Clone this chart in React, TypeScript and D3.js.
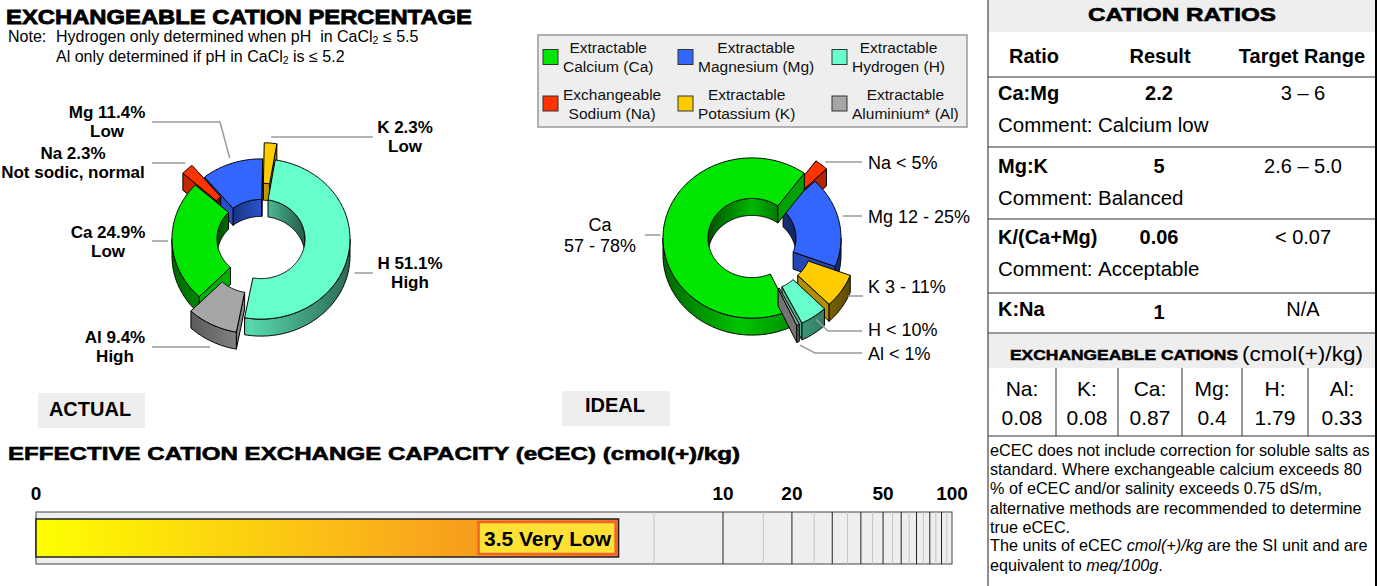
import * as React from 'react';
import * as d3 from 'd3';

// ---------- data ----------
const cationKeys = ['Ca', 'Na', 'Mg', 'K', 'H', 'Al'];
const cationColors = ['#00E600', '#FF3300', '#3366FF', '#FFCC00', '#66FFCC', '#A6A6A6'];
const legendText = [
  ['Extractable', 'Calcium (Ca)'],
  ['Exchangeable', 'Sodium (Na)'],
  ['Extractable', 'Magnesium (Mg)'],
  ['Extractable', 'Potassium (K)'],
  ['Extractable', 'Hydrogen (H)'],
  ['Extractable', 'Aluminium* (Al)'],
];

const actualPercent = [24.9, 2.3, 11.4, 2.3, 51.1, 9.4];
const actualText = [['Ca 24.9%', 'Low'], ['Na 2.3%', 'Not sodic, normal'], ['Mg 11.4%', 'Low'], ['K 2.3%', 'Low'], ['H 51.1%', 'High'], ['Al 9.4%', 'High']];
const actualExplode = [0, 1, 0, 1, 0, 1];

// ideal = midpoint of each target range
const idealPercent = [67.5, 2.5, 18.5, 7, 5, 0.5];
const idealText = [['Ca', '57 - 78%'], ['Na < 5%'], ['Mg 12 - 25%'], ['K 3 - 11%'], ['H < 10%'], ['Al < 1%']];
const idealExplode = [0, 1, 0, 1, 1, 1];

const ratioNames = ['Ca:Mg', 'Mg:K', 'K/(Ca+Mg)', 'K:Na'];
const ratioResults = ['2.2', '5', '0.06', '1'];
const ratioTargets = ['3 – 6', '2.6 – 5.0', '< 0.07', 'N/A'];
const ratioComments = ['Calcium low', 'Balanced', 'Acceptable', ''];

const exchangeNames = ['Na:', 'K:', 'Ca:', 'Mg:', 'H:', 'Al:'];
const exchangeValues = ['0.08', '0.08', '0.87', '0.4', '1.79', '0.33'];

const ececValue = 3.5;
const ececRating = 'Very Low';
const ececTicks = [0.01, 10, 20, 50, 100];
const ececTickLabels = ['0', '10', '20', '50', '100'];
const ececMajor = [10, 20, 30, 40, 50, 60, 70, 80, 90];
const ececMinor = [5, 15, 25, 35, 45, 55, 65, 75, 85, 95];

const noteLines = [
  'eCEC does not include correction for soluble salts as',
  'standard. Where exchangeable calcium exceeds 80',
  '% of eCEC and/or salinity exceeds 0.75 dS/m,',
  'alternative methods are recommended to determine',
  'true eCEC.',
];

// ---------- layout ----------
const FONT = "'Liberation Sans', Arial, Helvetica, sans-serif";
const R = 89, R0 = 44, TILT = 0.9, DEPTH = 17, EXPLODE = 18;

interface LabelSpec {
  x: number; y: number; anchor: 'start' | 'middle' | 'end';
  lineX: number; lineY: number; elbowX?: number; gap: number; z: number; flat?: boolean;
}

const actualLayout: LabelSpec[] = [
  { x: 108, y: 232, anchor: 'middle', lineX: 152, lineY: 241, gap: 4, z: 0, flat: true },
  { x: 73, y: 153, anchor: 'middle', lineX: 152, lineY: 163, gap: 3, z: 0, flat: true },
  { x: 107, y: 112, anchor: 'middle', lineX: 152, lineY: 122, elbowX: 220, gap: 6, z: 0 },
  { x: 405, y: 127, anchor: 'middle', lineX: 373, lineY: 137, gap: 6, z: 0, flat: true },
  { x: 410, y: 263, anchor: 'middle', lineX: 373, lineY: 273, gap: 6, z: 0, flat: true },
  { x: 115, y: 337, anchor: 'middle', lineX: 152, lineY: 347, gap: 4, z: DEPTH, flat: true },
];

const idealLayout: LabelSpec[] = [
  { x: 600, y: 225, anchor: 'middle', lineX: 645, lineY: 235, gap: 3, z: 0, flat: true },
  { x: 868, y: 163, anchor: 'start', lineX: 862, lineY: 162, gap: 6, z: 0, flat: true },
  { x: 868, y: 217, anchor: 'start', lineX: 862, lineY: 216, gap: 4, z: 0, flat: true },
  { x: 868, y: 287, anchor: 'start', lineX: 863, lineY: 296, gap: 8, z: 0, flat: true },
  { x: 868, y: 330, anchor: 'start', lineX: 862, lineY: 331, elbowX: 828, gap: 4, z: 0 },
  { x: 868, y: 354, anchor: 'start', lineX: 862, lineY: 353, elbowX: 815, gap: 4, z: DEPTH },
];

const shade = (hex: string, f: number) => {
  const c = d3.rgb(hex);
  return d3.rgb(c.r * f, c.g * f, c.b * f).formatHex();
};

const measure = (() => {
  let ctx: CanvasRenderingContext2D | null = null;
  return (text: string, font: string) => {
    if (!ctx) ctx = document.createElement('canvas').getContext('2d');
    if (!ctx) return text.length * 8;
    ctx.font = font;
    return ctx.measureText(text).width;
  };
})();

// visible pieces of [a1,a2] inside [lo,hi] (degrees, periodic)
const overlap = (a1: number, a2: number, lo: number, hi: number) => {
  const out: [number, number][] = [];
  for (let k = -1; k <= 2; k++) {
    const s = Math.max(a1, lo + 360 * k);
    const e = Math.min(a2, hi + 360 * k);
    if (e - s > 0.01) out.push([s, e]);
  }
  return out;
};

interface DonutProps {
  id: string; cx: number; cy: number; values: number[]; explode: number[]; startDeg: number;
  layout: LabelSpec[]; texts: string[][]; bold: boolean; fontSize: number; lineGap: number;
}

const Donut: React.FC<DonutProps> = ({ id, cx, cy, values, explode, startDeg, layout, texts, bold, fontSize, lineGap }) => {
  const arcs = d3.pie<number>().sort(null).value(d => d)
    .startAngle(startDeg * Math.PI / 180).endAngle((startDeg + 360) * Math.PI / 180)(values);

  const P = (deg: number, r: number, z: number, off: [number, number]): [number, number] => {
    const t = deg * Math.PI / 180;
    return [cx + off[0] + r * Math.sin(t), cy + off[1] - r * Math.cos(t) * TILT + z];
  };
  const arcPts = (s: number, e: number, r: number, z: number, off: [number, number]) => {
    const n = Math.max(2, Math.ceil(Math.abs(e - s)));
    return d3.range(n + 1).map(k => P(s + (e - s) * k / n, r, z, off));
  };
  const poly = (pts: [number, number][]) => 'M' + pts.map(p => p[0].toFixed(2) + ',' + p[1].toFixed(2)).join('L') + 'Z';

  const slices = arcs.map((a, i) => {
    const a1 = a.startAngle * 180 / Math.PI;
    const a2 = a.endAngle * 180 / Math.PI;
    const mid = (a1 + a2) / 2;
    const e = explode[i] ? EXPLODE : 0;
    const mr = mid * Math.PI / 180;
    const off: [number, number] = [e * Math.sin(mr), -e * Math.cos(mr) * TILT];
    return { i, a1, a2, mid, off, key: -Math.cos(mr) * ((R + R0) / 2 + e) };
  });

  const order = [...slices].sort((a, b) => a.key - b.key);
  const stroke = { stroke: '#000', strokeWidth: 1, strokeLinejoin: 'round' as const };

  return (
    <g>
      <defs>
        {slices.map(s => (
          <React.Fragment key={s.i}>
            <linearGradient id={`${id}-o${s.i}`} gradientUnits="userSpaceOnUse" x1={cx - R - 20} x2={cx + R + 20} y1={0} y2={0}>
              <stop offset="0" stopColor={shade(cationColors[s.i], 0.35)} />
              <stop offset="0.45" stopColor={shade(cationColors[s.i], 0.85)} />
              <stop offset="1" stopColor={shade(cationColors[s.i], 0.33)} />
            </linearGradient>
            <linearGradient id={`${id}-i${s.i}`} gradientUnits="userSpaceOnUse" x1={cx - R0} x2={cx + R0} y1={0} y2={0}>
              <stop offset="0" stopColor={shade(cationColors[s.i], 0.35)} />
              <stop offset="0.5" stopColor={shade(cationColors[s.i], 0.8)} />
              <stop offset="1" stopColor={shade(cationColors[s.i], 0.35)} />
            </linearGradient>
          </React.Fragment>
        ))}
      </defs>
      {order.map(s => {
        const col = cationColors[s.i];
        const inner = overlap(s.a1, s.a2, 270, 450);
        const outer = overlap(s.a1, s.a2, 90, 270);
        const face = (a: number) => poly([P(a, R0, 0, s.off), P(a, R, 0, s.off), P(a, R, DEPTH, s.off), P(a, R0, DEPTH, s.off)]);
        return (
          <g key={s.i}>
            {inner.map(([a, b], k) => (
              <path key={'i' + k} d={poly([...arcPts(a, b, R0, 0, s.off), ...arcPts(b, a, R0, DEPTH, s.off)])} fill={`url(#${id}-i${s.i})`} {...stroke} />
            ))}
            {Math.sin(s.a1 * Math.PI / 180) < 0 && <path d={face(s.a1)} fill={shade(col, 0.78)} {...stroke} />}
            {Math.sin(s.a2 * Math.PI / 180) > 0 && <path d={face(s.a2)} fill={shade(col, 0.7)} {...stroke} />}
            {outer.map(([a, b], k) => (
              <path key={'o' + k} d={poly([...arcPts(a, b, R, 0, s.off), ...arcPts(b, a, R, DEPTH, s.off)])} fill={`url(#${id}-o${s.i})`} {...stroke} />
            ))}
            <path d={poly([...arcPts(s.a1, s.a2, R, 0, s.off), ...arcPts(s.a2, s.a1, R0, 0, s.off)])} fill={col} {...stroke} />
          </g>
        );
      })}
      {slices.map(s => {
        const L = layout[s.i];
        const anchor = P(s.mid, R + L.gap, L.z, s.off);
        const pts: [number, number][] = [[L.lineX, L.lineY]];
        if (L.elbowX !== undefined) pts.push([L.elbowX, L.lineY]);
        pts.push(L.flat ? [anchor[0], L.lineY] : anchor);
        return (
          <g key={'l' + s.i}>
            <polyline points={pts.map(p => p.join(',')).join(' ')} fill="none" stroke="#9a9a9a" strokeWidth={1.5} />
            {texts[s.i].map((t, k) => (
              <text key={k} x={L.x} y={L.y + k * lineGap} textAnchor={L.anchor} dominantBaseline="central"
                fontSize={fontSize} fontWeight={bold ? 'bold' : 'normal'} fill="#000">{t}</text>
            ))}
          </g>
        );
      })}
    </g>
  );
};

const Legend: React.FC = () => {
  const colX = [543, 678, 832];
  const rowY = [57, 103.5];
  const font = `15.5px ${FONT}`;
  return (
    <g>
      <rect x={538} y={35} width={429} height={92} fill="#EEEEEE" stroke="#999" strokeWidth={1.5} />
      {cationKeys.map((k, i) => {
        const sx = colX[Math.floor(i / 2)];
        const sy = rowY[i % 2];
        const w = Math.max(...legendText[i].map(t => measure(t, font)));
        const tx = sx + 20 + w / 2;
        return (
          <g key={k}>
            <rect x={sx} y={sy - 7.5} width={15} height={15} fill={cationColors[i]} stroke="#333" strokeWidth={1} />
            {legendText[i].map((t, j) => (
              <text key={j} x={tx} y={sy - 9.5 + j * 19} textAnchor="middle" dominantBaseline="central" fontSize={15.5} fill="#111">{t}</text>
            ))}
          </g>
        );
      })}
    </g>
  );
};

const EcecBar: React.FC = () => {
  const x = d3.scaleLog().domain([0.01, 100]).range([36, 952]);
  const top = 512, bottom = 564, barTop = 519, barBottom = 557;
  const end = x(ececValue);
  return (
    <g>
      <defs>
        <linearGradient id="ecec-grad" gradientUnits="userSpaceOnUse" x1={x(0.01)} x2={end} y1={0} y2={0}>
          <stop offset="0" stopColor="#FFFF00" />
          <stop offset="0.5" stopColor="#FBBE16" />
          <stop offset="1" stopColor="#F47A25" />
        </linearGradient>
      </defs>
      <rect x={x(0.01)} y={top} width={x(100) - x(0.01)} height={bottom - top} fill="#EEEEEE" stroke="#444" strokeWidth={1} />
      {ececMinor.map(v => (
        <line key={'m' + v} x1={x(v)} x2={x(v)} y1={top} y2={bottom} stroke="#c4c4c4" strokeWidth={1} />
      ))}
      {ececMajor.map(v => (
        <line key={'M' + v} x1={x(v)} x2={x(v)} y1={top} y2={bottom} stroke="#222" strokeWidth={1} />
      ))}
      <rect x={x(0.01)} y={barTop} width={end - x(0.01)} height={barBottom - barTop} fill="url(#ecec-grad)" stroke="#222" strokeWidth={1.5} />
      <rect x={end - 140} y={barTop + 3} width={137} height={barBottom - barTop - 6} fill="#FFE135" stroke="#F0642A" strokeWidth={2.5} />
      <text x={end - 71} y={(barTop + barBottom) / 2} textAnchor="middle" dominantBaseline="central" fontSize={21} fontWeight="bold">
        {`${ececValue} ${ececRating}`}
      </text>
      {ececTicks.map((t, i) => (
        <text key={t} x={x(t)} y={493} textAnchor="middle" dominantBaseline="central" fontSize={19} fontWeight="bold">{ececTickLabels[i]}</text>
      ))}
    </g>
  );
};

const RatioPanel: React.FC = () => {
  const L = 988, Rr = 1376;
  const nameY = [93, 166, 237, 309];
  const commentY = [124, 197, 268];
  const rules = [77, 147, 219, 293, 333, 436];
  const colEdges = [L, 1056, 1118, 1182, 1242, 1308, Rr];
  return (
    <g>
      <rect x={L} y={0} width={Rr - L} height={32} fill="#EEEEEE" />
      <rect x={L} y={334} width={Rr - L} height={34} fill="#EEEEEE" />
      <text x={1182} y={14} textAnchor="middle" dominantBaseline="central" fontSize={19} fontWeight="bold" stroke="#000" strokeWidth={0.6} textLength={188} lengthAdjust="spacingAndGlyphs">CATION RATIOS</text>
      <text x={1034} y={56} textAnchor="middle" dominantBaseline="central" fontSize={20} fontWeight="bold">Ratio</text>
      <text x={1160} y={56} textAnchor="middle" dominantBaseline="central" fontSize={20} fontWeight="bold">Result</text>
      <text x={1302} y={56} textAnchor="middle" dominantBaseline="central" fontSize={20} fontWeight="bold">Target Range</text>
      {rules.map(y => <line key={y} x1={L} x2={Rr} y1={y} y2={y} stroke="#333" strokeWidth={1} />)}
      {ratioNames.map((n, i) => (
        <g key={n}>
          <text x={998} y={nameY[i]} dominantBaseline="central" fontSize={20} fontWeight="bold">{n}</text>
          <text x={1159} y={nameY[i] + (i === 3 ? 3 : 0)} textAnchor="middle" dominantBaseline="central" fontSize={20} fontWeight="bold">{ratioResults[i]}</text>
          <text x={1303} y={nameY[i]} textAnchor="middle" dominantBaseline="central" fontSize={20}>{ratioTargets[i]}</text>
          {ratioComments[i] && (
            <g>
              <text x={998} y={commentY[i]} dominantBaseline="central" fontSize={20.5}>Comment:</text>
              <text x={1098} y={commentY[i]} dominantBaseline="central" fontSize={20.5}>{ratioComments[i]}</text>
            </g>
          )}
        </g>
      ))}
      <text x={1010} y={354} dominantBaseline="central" fontSize={15} fontWeight="bold" stroke="#000" strokeWidth={0.5} textLength={228} lengthAdjust="spacingAndGlyphs">EXCHANGEABLE CATIONS</text>
      <text x={1242} y={354} dominantBaseline="central" fontSize={20} textLength={121} lengthAdjust="spacingAndGlyphs">(cmol(+)/kg)</text>
      {colEdges.slice(1, -1).map(x => <line key={x} x1={x} x2={x} y1={368} y2={436} stroke="#333" strokeWidth={1} />)}
      {exchangeNames.map((n, i) => {
        const cx = (colEdges[i] + colEdges[i + 1]) / 2;
        return (
          <g key={n}>
            <text x={cx} y={388} textAnchor="middle" dominantBaseline="central" fontSize={21}>{n}</text>
            <text x={cx} y={417} textAnchor="middle" dominantBaseline="central" fontSize={21}>{exchangeValues[i]}</text>
          </g>
        );
      })}
      {noteLines.map((t, i) => (
        <text key={i} x={990} y={450 + i * 19.2} dominantBaseline="central" fontSize={16.2}>{t}</text>
      ))}
      <text x={990} y={545} dominantBaseline="central" fontSize={16.2}>
        The units of eCEC <tspan fontStyle="italic">cmol(+)/kg</tspan> are the SI unit and are
      </text>
      <text x={990} y={565} dominantBaseline="central" fontSize={16.2}>
        equivalent to <tspan fontStyle="italic">meq/100g</tspan>.
      </text>
      <line x1={L} x2={L} y1={0} y2={586} stroke="#444" strokeWidth={1.2} />
      <line x1={Rr} x2={Rr} y1={0} y2={586} stroke="#000" strokeWidth={2} />
    </g>
  );
};

const App: React.FC = () => {
  return (
    <div style={{ position: 'absolute', left: 0, top: 0, width: 1380, height: 586, background: '#fff' }}>
      <svg width={1380} height={586} style={{ display: 'block', fontFamily: FONT }}>
        <text x={6} y={16} dominantBaseline="central" fontSize={21} fontWeight="bold" stroke="#000" strokeWidth={0.8} textLength={466} lengthAdjust="spacingAndGlyphs">EXCHANGEABLE CATION PERCENTAGE</text>
        <text x={8} y={36} dominantBaseline="central" fontSize={16}>Note:</text>
        <text x={56} y={36} dominantBaseline="central" fontSize={16} style={{ whiteSpace: 'pre' }}>
          {'Hydrogen only determined when pH  in CaCl'}<tspan fontSize={10.5} dy={4}>2</tspan><tspan dy={-4}>{' ≤ 5.5'}</tspan>
        </text>
        <text x={56} y={56} dominantBaseline="central" fontSize={16} style={{ whiteSpace: 'pre' }}>
          {'Al only determined if pH in CaCl'}<tspan fontSize={10.5} dy={4}>2</tspan><tspan dy={-4}>{' is ≤ 5.2'}</tspan>
        </text>

        <Legend />

        <Donut id="act" cx={261} cy={239} values={actualPercent} explode={actualExplode} startDeg={224}
          layout={actualLayout} texts={actualText} bold={true} fontSize={17} lineGap={19.5} />
        <Donut id="ide" cx={752} cy={238} values={idealPercent} explode={idealExplode} startDeg={155.4}
          layout={idealLayout} texts={idealText} bold={false} fontSize={18} lineGap={21} />

        <rect x={38} y={393} width={107} height={35} fill="#EEEEEE" />
        <text x={90} y={409} textAnchor="middle" dominantBaseline="central" fontSize={20} fontWeight="bold">ACTUAL</text>
        <rect x={562} y={391} width={108} height={35} fill="#EEEEEE" />
        <text x={615} y={405} textAnchor="middle" dominantBaseline="central" fontSize={20} fontWeight="bold">IDEAL</text>

        <text x={8} y={453} dominantBaseline="central" fontSize={19} fontWeight="bold" stroke="#000" strokeWidth={0.6} textLength={732} lengthAdjust="spacingAndGlyphs">EFFECTIVE CATION EXCHANGE CAPACITY (eCEC) (cmol(+)/kg)</text>
        <EcecBar />

        <RatioPanel />
      </svg>
    </div>
  );
};

export default App;
